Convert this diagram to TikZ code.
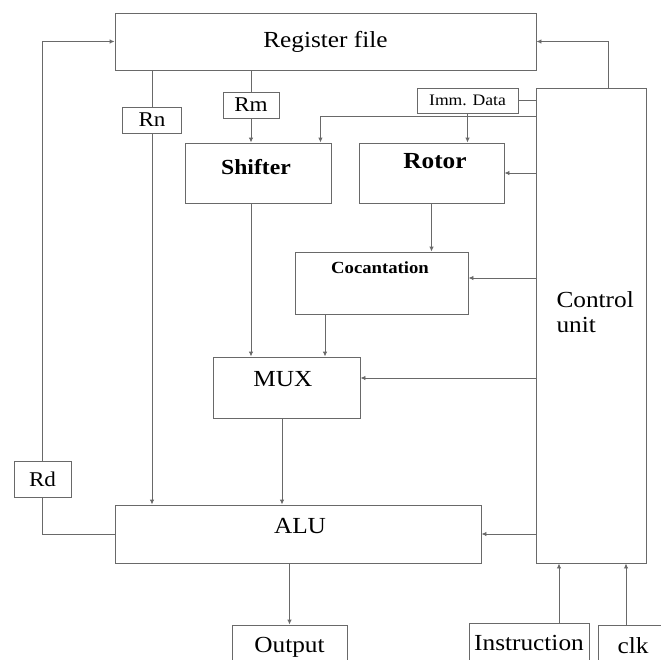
\documentclass[tikz,border=0pt]{standalone}
\usepackage{fontspec}
\setmainfont{Liberation Serif}[FakeStretch=1.1]
\usepackage{tikz}
\usetikzlibrary{arrows}
\usetikzlibrary{arrows.meta}
\usetikzlibrary{calc}
\usetikzlibrary{positioning}
\definecolor{wiregray}{RGB}{105,105,105}

\begin{document}
\begin{tikzpicture}[x=1pt, y=-1pt, >={Latex[length=5pt,width=4.5pt]}]
	\def\FontBig{\fontsize{23}{25}\selectfont}
	\def\FontReg{\fontsize{21}{23}\selectfont}
	\def\FontSmall{\fontsize{16}{18}\selectfont}
	\def\FontCoc{\fontsize{17}{19}\selectfont\bfseries}
	%%%%%%%%%%%%%%%%%%%%%%%%%%%%%%%%%%%%%%%%%%%%%%%%%%%%%%%%%%
	\tikzset{
		block/.style={draw=wiregray, line width=0.9pt, rectangle, inner sep=0pt},
		wire/.style={draw=wiregray, line width=0.9pt},
	}
	%%%%%%%%%%%%%%%%%%%%%%%%%%%%%%%%%%%%%%%%%%%%%%%%%%%%%%%%%%
	\useasboundingbox (0,0) rectangle (661,659);
	\clip (0,0) rectangle (661,659);
	
	% blocks
	\node[block, minimum width=421pt, minimum height=57pt, font=\FontBig] (regfile) at (325.5,41.5) {Register file};
	\node[block, minimum width=59pt, minimum height=26pt, font=\FontReg] (rn) at (152,120) {Rn};
	\node[block, minimum width=56pt, minimum height=26pt, font=\FontReg] (rm) at (251,105) {Rm};
	\node[block, minimum width=101pt, minimum height=25pt, font=\FontSmall] (imm) at (467.5,100.5) {Imm. Data};
	\node[block, minimum width=146pt, minimum height=60pt] (shifter) at (258,173) {};
	\node[font=\fontsize{21.5}{24}\selectfont\bfseries] (shifter-txt) at (256,167) {Shifter};
	\node[block, minimum width=145pt, minimum height=60pt] (rotor) at (431.5,173) {};
	\node[font=\FontBig\bfseries] (rotor-txt) at (435,161) {Rotor};
	\node[block, minimum width=173pt, minimum height=62pt] (coc) at (381.5,283) {};
	\node[font=\FontCoc] (coc-txt) at (380,268) {Cocantation};
	\node[block, minimum width=147pt, minimum height=61pt] (mux) at (286.5,387.5) {};
	\node[font=\FontBig] (mux-txt) at (283,379) {MUX};
	\node[block, minimum width=110pt, minimum height=475pt] (cu) at (591,325.5) {};
	\node[font=\FontBig, align=left, anchor=west] (cu-txt) at (553,312) {Control\\unit};
	\node[block, minimum width=366pt, minimum height=58pt] (alu) at (298,534) {};
	\node[font=\FontBig] (alu-txt) at (300,526) {ALU};
	\node[block, minimum width=57pt, minimum height=36pt, font=\FontReg] (rd) at (42.5,479) {Rd};
	\node[block, minimum width=115pt, minimum height=44pt, font=\FontBig] (output) at (289.5,647) {Output};
	\node[block, minimum width=120pt, minimum height=40pt, font=\FontBig] (instr) at (529,643) {Instruction};
	\node[block, minimum width=70pt, minimum height=42pt, font=\FontBig] (clk) at (633,646) {clk};
	
	% helper points
	\coordinate (cu-shift) at ([yshift=-29pt]cu.north west);
	\coordinate (shift-in) at ([xshift=-11pt]shifter.north east);
	\coordinate (coc-in) at ([yshift=5pt]coc.east);
	\coordinate (coc-out) at ([xshift=-56.5pt]coc.south);
	\coordinate (mux-in) at ([yshift=9.5pt]mux.east);
	\coordinate (mux-out) at ([xshift=-4.5pt]mux.south);
	\coordinate (instr-out) at ([xshift=30pt]instr.north);
	\coordinate (clk-out) at ([xshift=-7pt]clk.north);
	
	% Rd feedback to register file
	\draw[wire] (alu.west) -| (rd.south);
	\draw[wire,->] (rd.north) |- (regfile.west);
	
	% Rn and Rm operands
	\draw[wire] (regfile.south -| rn.north) -- (rn.north);
	\draw[wire,->] (rn.south) -- (rn.south |- alu.north);
	\draw[wire] (regfile.south -| rm.north) -- (rm.north);
	\draw[wire,->] (rm.south) -- (rm.south |- shifter.north);
	
	% datapath
	\draw[wire,->] (shifter.south -| rm.south) -- (rm.south |- mux.north);
	\draw[wire,->] (imm.south) -- (imm.south |- rotor.north);
	\draw[wire,->] (rotor.south) -- (rotor.south |- coc.north);
	\draw[wire,->] (coc-out) -- (coc-out |- mux.north);
	\draw[wire,->] (mux-out) -- (mux-out |- alu.north);
	\draw[wire,->] (alu.south -| output.north) -- (output.north);
	
	% control unit signals
	\draw[wire] (imm.east) -- (imm.east -| cu.west);
	\draw[wire,->] ([xshift=17pt]cu.north) |- (regfile.east);
	\draw[wire,->] (cu-shift) -| (shift-in);
	\draw[wire,->] (cu.west |- rotor.east) -- (rotor.east);
	\draw[wire,->] (coc-in -| cu.west) -- (coc-in);
	\draw[wire,->] (mux-in -| cu.west) -- (mux-in);
	\draw[wire,->] (cu.west |- alu.east) -- (alu.east);
	
	% inputs of the control unit
	\draw[wire,->] (instr-out) -- (instr-out |- cu.south);
	\draw[wire,->] (clk-out) -- (clk-out |- cu.south);
	
\end{tikzpicture}
\end{document}
